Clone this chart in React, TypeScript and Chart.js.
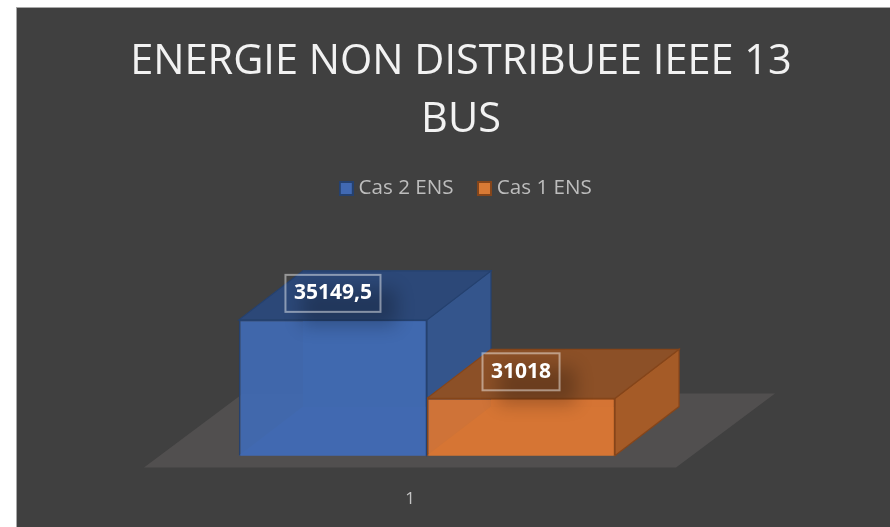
import React, { useEffect, useRef } from "react";
import { Chart, registerables } from "chart.js";

Chart.register(...registerables);

const categories = ["1"];
const cas2Values = [35149.5];
const cas1Values = [31018];
const seriesNames = ["Cas 2 ENS", "Cas 1 ENS"];
const titleLines = ["ENERGIE NON DISTRIBUEE IEEE 13", "BUS"];

const FONT = '"Open Sans", sans-serif';
const DEPTH_X = 64;
const DEPTH_Y = 49;

const palettes = [
  { front: "rgba(65,105,176,0.96)", solid: "#4169b2", top: "#2c4878", side: "#34558c", back: "#3a5f9e", bottom: "#466fbc", edge: "#25416f" },
  { front: "rgba(213,117,52,0.96)", solid: "#d87a35", top: "#8c5027", side: "#a55b27", back: "#c96e33", bottom: "#e07c30", edge: "#85451a" },
];

const legendSwatch = (fill: string, edge: string) => {
  const c = document.createElement("canvas");
  c.width = 15;
  c.height = 15;
  const g = c.getContext("2d") as CanvasRenderingContext2D;
  g.fillStyle = fill;
  g.fillRect(0, 0, 15, 15);
  g.strokeStyle = edge;
  g.lineWidth = 2;
  g.strokeRect(1, 1, 13, 13);
  return c;
};

const poly = (ctx: CanvasRenderingContext2D, pts: number[][], fill: string, edge?: string) => {
  ctx.beginPath();
  pts.forEach((p, i) => (i ? ctx.lineTo(p[0], p[1]) : ctx.moveTo(p[0], p[1])));
  ctx.closePath();
  ctx.fillStyle = fill;
  ctx.fill();
  if (edge) {
    ctx.strokeStyle = edge;
    ctx.lineWidth = 1.2;
    ctx.stroke();
  }
};

const box3d = {
  id: "box3d",
  afterLayout(chart: any) {
    chart.legend.left += 7;
    chart.legend.right += 7;
  },
  beforeDatasetsDraw(chart: any) {
    const ctx: CanvasRenderingContext2D = chart.ctx;
    const a = chart.chartArea;
    ctx.save();
    const fy = a.bottom + 12;
    const fl = a.left - 17;
    const fr = a.right - 17;
    poly(ctx, [[fl, fy], [fr, fy], [fr + 99, fy - 74], [fl + 99, fy - 74]], "#514f4f");
    chart.data.datasets.forEach((_: any, i: number) => {
      const el = chart.getDatasetMeta(i).data[0];
      const c = palettes[i];
      const l = el.x - el.width / 2;
      const r = el.x + el.width / 2;
      const t = el.y;
      const b = a.bottom;
      const dx = DEPTH_X;
      const dy = DEPTH_Y;
      poly(ctx, [[l + dx, t - dy], [r + dx, t - dy], [r + dx, b - dy], [l + dx, b - dy]], c.back);
      poly(ctx, [[l, b], [r, b], [r + dx, b - dy], [l + dx, b - dy]], c.bottom);
      poly(ctx, [[r, t], [r + dx, t - dy], [r + dx, b - dy], [r, b]], c.side, c.edge);
      poly(ctx, [[l, t], [r, t], [r + dx, t - dy], [l + dx, t - dy]], c.top, c.edge);
    });
    ctx.restore();
  },
  afterDatasetsDraw(chart: any) {
    const ctx: CanvasRenderingContext2D = chart.ctx;
    chart.data.datasets.forEach((ds: any, i: number) => {
      const el = chart.getDatasetMeta(i).data[0];
      const text = String(ds.data[0]).replace(".", ",");
      ctx.save();
      ctx.font = `bold 21px ${FONT}`;
      const w = ctx.measureText(text).width + 17;
      const h = 37;
      const x = el.x - w / 2;
      const y = el.y - 26.5 - h / 2;
      ctx.save();
      ctx.shadowColor = "rgba(0,0,0,0.24)";
      ctx.shadowBlur = 18;
      ctx.shadowOffsetX = 3000 + 16;
      ctx.shadowOffsetY = 14;
      ctx.fillStyle = "#000";
      ctx.fillRect(x - 3000, y, w, h);
      ctx.restore();
      ctx.strokeStyle = "rgba(255,255,255,0.45)";
      ctx.lineWidth = 2;
      ctx.strokeRect(x, y, w, h);
      ctx.fillStyle = "#ffffff";
      ctx.textAlign = "center";
      ctx.textBaseline = "middle";
      ctx.fillText(text, el.x, y + h / 2);
      ctx.restore();
    });
  },
};

export default function App() {
  const ref = useRef<HTMLCanvasElement>(null);
  useEffect(() => {
    const swatches = palettes.map((p) => legendSwatch(p.solid, p.edge));
    const chart = new Chart(ref.current as HTMLCanvasElement, {
      type: "bar",
      data: {
        labels: categories,
        datasets: [
          { label: seriesNames[0], data: cas2Values, backgroundColor: palettes[0].front, borderColor: palettes[0].edge, borderWidth: 1.5, yAxisID: "y" },
          { label: seriesNames[1], data: cas1Values, backgroundColor: palettes[1].front, borderColor: palettes[1].edge, borderWidth: 1.5, yAxisID: "y" },
        ],
      },
      options: {
        responsive: false,
        animation: false,
        events: [],
        layout: { padding: { left: 0, right: 0, top: 26, bottom: 0 } },
        datasets: { bar: { categoryPercentage: 0.707, barPercentage: 1 } },
        plugins: {
          tooltip: { enabled: false },
          title: {
            display: true,
            text: titleLines,
            color: "#f2f2f2",
            font: { family: FONT, size: 41.5, weight: "normal", lineHeight: 1.4 },
            padding: { top: 0, bottom: 0 },
          },
          legend: {
            display: true,
            position: "top",
            labels: {
              color: "#bdbdbd",
              usePointStyle: true,
              pointStyleWidth: 4,
              boxHeight: 15,
              padding: 29,
              font: { family: FONT, size: 20.6 },
              generateLabels: (c: any) =>
                c.data.datasets.map((d: any, i: number) => ({
                  text: d.label,
                  fontColor: "#bdbdbd",
                  pointStyle: swatches[i],
                  datasetIndex: i,
                  hidden: false,
                })),
            },
          },
        },
        scales: {
          x: {
            grid: { display: false },
            border: { display: false },
            ticks: { color: "#c4c4c4", font: { family: FONT, size: 17 }, padding: 25, labelOffset: -17, maxRotation: 0 },
          },
          y: {
            position: "left",
            min: 28000,
            max: 41000,
            grid: { display: false },
            border: { display: false },
            ticks: { display: false },
            afterFit: (s: any) => { s.width = 145; },
          },
          yRight: {
            position: "right",
            min: 28000,
            max: 41000,
            grid: { display: false },
            border: { display: false },
            ticks: { display: false },
            afterFit: (s: any) => { s.width = 213; },
          },
        },
      } as any,
      plugins: [box3d],
    });
    return () => chart.destroy();
  }, []);
  return (
    <div style={{ position: "fixed", left: 0, top: 0, width: 890, height: 527, overflow: "hidden", background: "#ffffff" }}>
      <div style={{ position: "absolute", left: 16, top: 7, width: 900, height: 540, boxSizing: "border-box", background: "#404040", borderTop: "1px solid #a8a8a8", borderLeft: "1px solid #a8a8a8" }} />
      <canvas ref={ref} width={890} height={527} style={{ position: "absolute", left: 16, top: 7, display: "block" }} />
    </div>
  );
}
